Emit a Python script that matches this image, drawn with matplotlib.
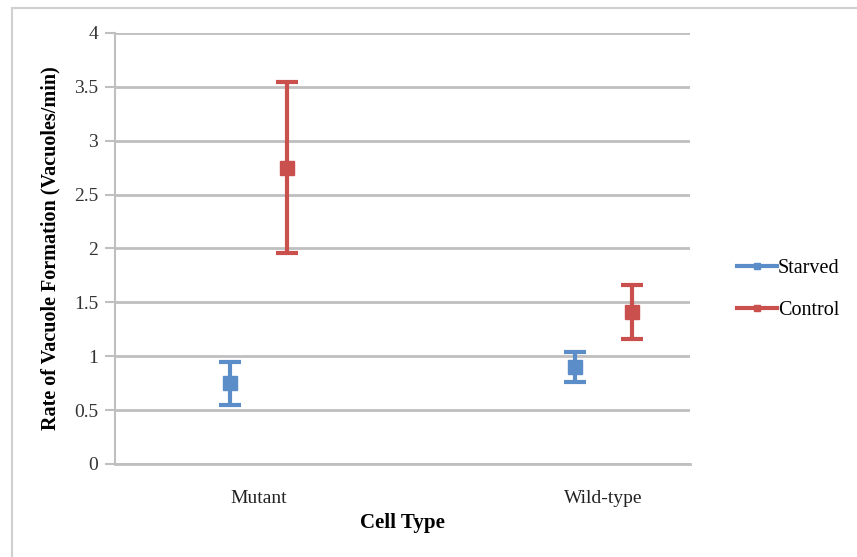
import matplotlib.pyplot as plt
import matplotlib.patches as mpatches
from matplotlib.lines import Line2D
import numpy as np

plt.rcParams['font.family'] = ['Liberation Serif', 'DejaVu Serif']

categories = ['Mutant', 'Wild-type']
starved = [0.75, 0.90]
starved_err = [0.20, 0.14]
control = [2.75, 1.41]
control_err = [0.79, 0.25]

blue = '#5B8EC8'
red = '#C9504D'
grid_c = '#BFBFBF'

fig = plt.figure(figsize=(8.57, 5.57), dpi=100)
ax = fig.add_axes([0.134, 0.167, 0.671, 0.774])

# light frame around the whole chart
fig.patches.append(mpatches.Rectangle((0.014, -0.01), 0.99, 0.996, transform=fig.transFigure,
                                      fill=False, edgecolor='#D0D0D0', linewidth=1.5))

x = np.arange(len(categories))
off = 0.083
ax.errorbar(x - off, starved, yerr=starved_err, fmt='s', color=blue, ecolor=blue,
            elinewidth=3, capsize=8, capthick=3, markersize=10, zorder=3)
ax.errorbar(x + off, control, yerr=control_err, fmt='s', color=red, ecolor=red,
            elinewidth=3, capsize=8, capthick=3, markersize=10, zorder=3)

ax.set_xlim(-0.417, 1.25)
ax.set_ylim(0, 4)
ax.set_yticks([0, 0.5, 1, 1.5, 2, 2.5, 3, 3.5, 4])
ax.set_yticklabels(['0', '0.5', '1', '1.5', '2', '2.5', '3', '3.5', '4'])
ax.set_xticks(x)
ax.set_xticklabels(categories)
ax.yaxis.grid(True, color=grid_c, linewidth=2)
ax.set_axisbelow(True)
for s in ['top', 'right']:
    ax.spines[s].set_visible(False)
ax.spines['left'].set_color(grid_c)
ax.spines['bottom'].set_color(grid_c)
ax.spines['left'].set_linewidth(1.5)
ax.spines['bottom'].set_linewidth(2)
ax.tick_params(axis='y', length=7, width=1.5, color=grid_c, labelsize=14, labelcolor='#333333', pad=5)
ax.tick_params(axis='x', length=0, labelsize=14, labelcolor='#222222', pad=19)

ax.set_ylabel('Rate of Vacuole Formation (Vacuoles/min)', fontsize=14.5, fontweight='bold', labelpad=10)
ax.set_xlabel('Cell Type', fontsize=15, fontweight='bold', labelpad=4)

handles = [Line2D([], [], color=blue, lw=3, marker='s', markersize=5),
           Line2D([], [], color=red, lw=3, marker='s', markersize=5)]
ax.legend(handles, ['Starved', 'Control'], loc='center left', bbox_to_anchor=(1.05, 0.405),
          frameon=False, fontsize=14.5, handlelength=2.0, handletextpad=0.05, labelspacing=1.1)

plt.savefig('out.png', dpi=100)
